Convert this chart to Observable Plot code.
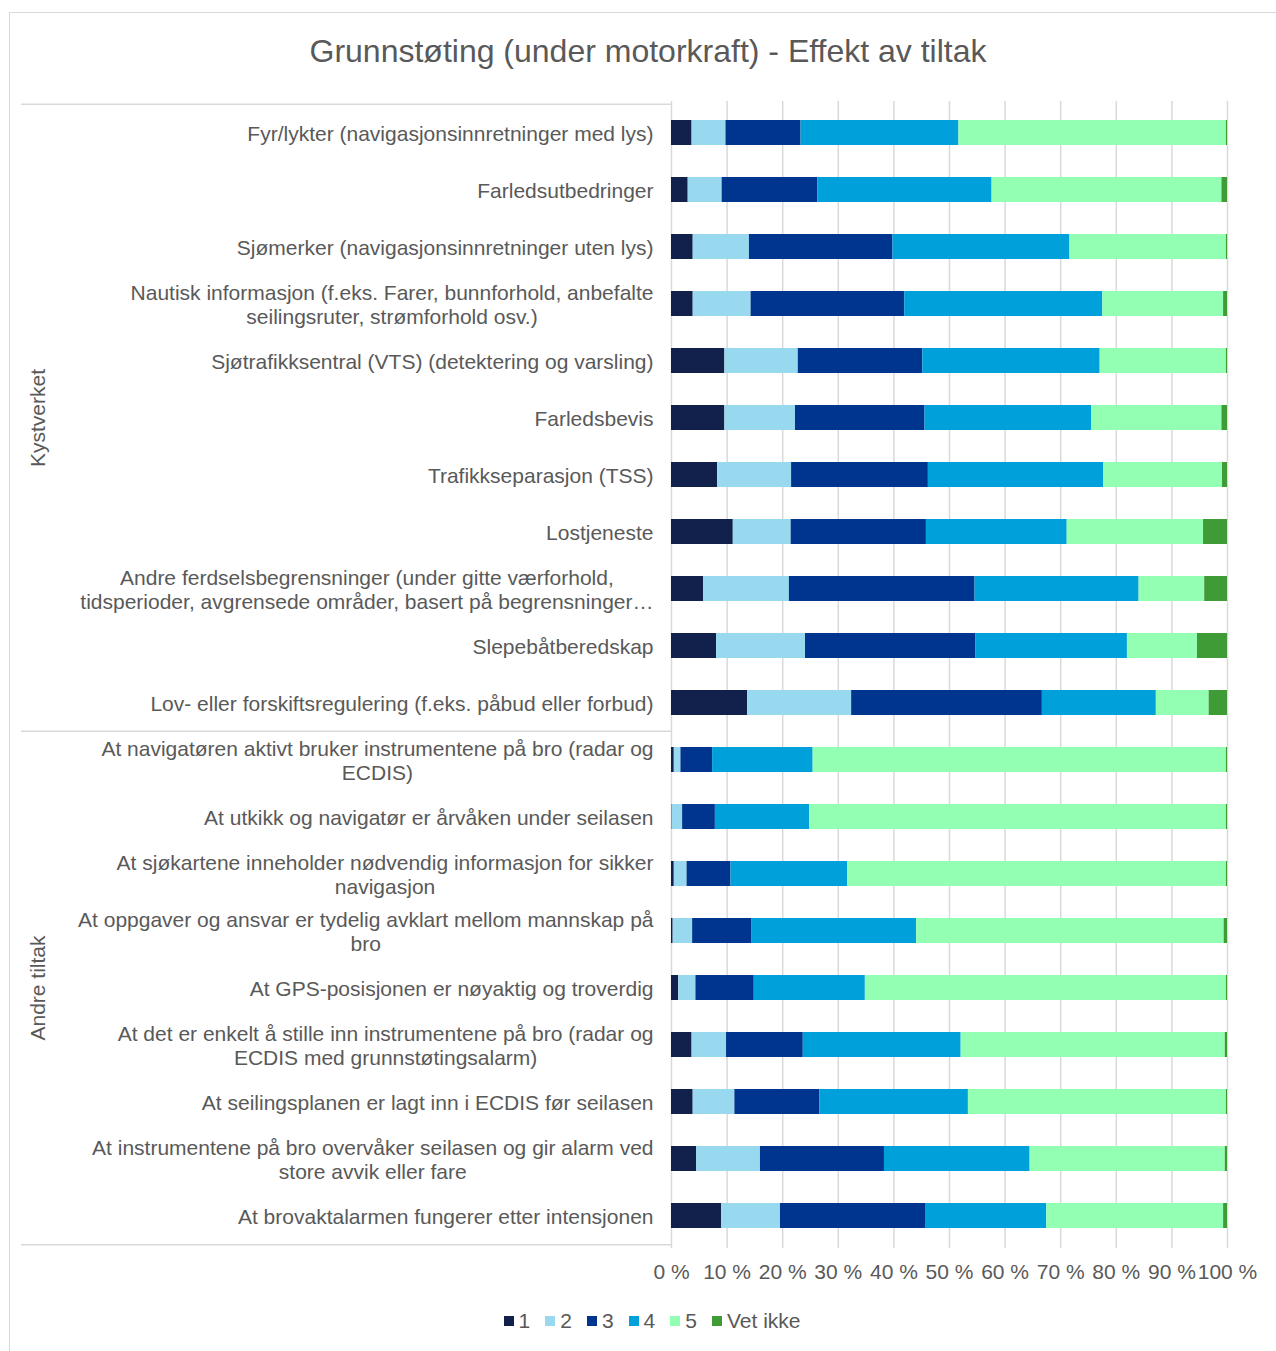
<!DOCTYPE html>
<html>
<head>
<meta charset="utf-8">
<script src="https://cdn.jsdelivr.net/npm/d3@7"></script>
<script src="https://cdn.jsdelivr.net/npm/@observablehq/plot@0.6"></script>
<style>
  html, body { margin: 0; padding: 0; overflow: hidden; background: #fff; }
  body { font-family: "Liberation Sans", Arial, sans-serif; color: #595959; width: 1276px; height: 1351px; position: relative; }
  #frame { position: absolute; left: 9px; top: 12px; width: 1320px; height: 1400px; border: 1.5px solid #d9d9d9; box-sizing: border-box; }
  #title { position: absolute; left: 10px; width: 1276px; top: 31px; line-height: 40px; font-size: 32px; text-align: center; }
  #chart { position: absolute; left: 0; top: 89px; }
  #legend { position: absolute; left: 0; width: 1304px; top: 1309px; display: flex; justify-content: center; gap: 15px; font-size: 21px; line-height: 24px; }
  #legend .item { display: flex; align-items: center; }
  #legend .sw { width: 10px; height: 10px; margin-right: 5px; display: inline-block; }
</style>
</head>
<body>
<div id="frame"></div>
<div id="title">Grunnstøting (under motorkraft) - Effekt av tiltak</div>
<div id="chart"></div>
<div id="legend"></div>
<script>
// ---- Data ----
const categories = [
  "Fyr/lykter (navigasjonsinnretninger med lys)",
  "Farledsutbedringer",
  "Sjømerker (navigasjonsinnretninger uten lys)",
  "Nautisk informasjon (f.eks. Farer, bunnforhold, anbefalte\nseilingsruter, strømforhold osv.)",
  "Sjøtrafikksentral (VTS) (detektering og varsling)",
  "Farledsbevis",
  "Trafikkseparasjon (TSS)",
  "Lostjeneste",
  "Andre ferdselsbegrensninger (under gitte værforhold,\ntidsperioder, avgrensede områder, basert på begrensninger…",
  "Slepebåtberedskap",
  "Lov- eller forskiftsregulering (f.eks. påbud eller forbud)",
  "At navigatøren aktivt bruker instrumentene på bro (radar og\nECDIS)",
  "At utkikk og navigatør er årvåken under seilasen",
  "At sjøkartene inneholder nødvendig informasjon for sikker\nnavigasjon",
  "At oppgaver og ansvar er tydelig avklart mellom mannskap på\nbro",
  "At GPS-posisjonen er nøyaktig og troverdig",
  "At det er enkelt å stille inn instrumentene på bro (radar og\nECDIS med grunnstøtingsalarm)",
  "At seilingsplanen er lagt inn i ECDIS før seilasen",
  "At instrumentene på bro overvåker seilasen og gir alarm ved\nstore avvik eller fare",
  "At brovaktalarmen fungerer etter intensjonen"
];
const groupNames = ["Kystverket", "Andre tiltak"];
const groupSizes = [11, 9];

const seriesNames = ["1", "2", "3", "4", "5", "Vet ikke"];
const seriesColors = ["#11214b", "#99d9f0", "#00358f", "#00a0da", "#93ffb3", "#3f9b35"];

const s1  = [3.7, 3.0, 3.9, 3.9, 9.6, 9.6, 8.3, 11.1, 5.8, 8.1, 13.7, 0.5, 0.1, 0.5, 0.3, 1.3, 3.7, 3.9, 4.5, 9.0];
const s2  = [6.1, 6.1, 10.1, 10.4, 13.2, 12.7, 13.3, 10.4, 15.4, 16.0, 18.7, 1.2, 1.9, 2.3, 3.5, 3.1, 6.2, 7.5, 11.5, 10.6];
const s3  = [13.5, 17.2, 25.8, 27.6, 22.4, 23.3, 24.6, 24.3, 33.4, 30.6, 34.3, 5.7, 5.9, 7.9, 10.6, 10.5, 13.8, 15.3, 22.3, 26.2];
const s4  = [28.4, 31.3, 31.8, 35.6, 31.9, 30.0, 31.5, 25.3, 29.5, 27.3, 20.5, 18.1, 17.0, 21.0, 29.7, 20.0, 28.4, 26.7, 26.2, 21.7];
const s5  = [48.1, 41.3, 28.1, 21.7, 22.7, 23.4, 21.4, 24.5, 11.8, 12.6, 9.5, 74.4, 75.0, 68.1, 55.3, 65.0, 47.5, 46.4, 35.1, 31.8];
const sVI = [0.2, 1.0, 0.2, 0.7, 0.2, 1.0, 0.9, 4.3, 4.1, 5.4, 3.3, 0.2, 0.2, 0.2, 0.6, 0.2, 0.4, 0.2, 0.4, 0.7];

const xTicks = [0, 10, 20, 30, 40, 50, 60, 70, 80, 90, 100];

// ---- Build table ----
const seriesValues = [s1, s2, s3, s4, s5, sVI];
const rows = [];
categories.forEach((c, i) => seriesNames.forEach((s, j) => rows.push({category: c, series: s, value: seriesValues[j][i]})));

// group helpers
const groupStarts = [], groupEnds = [], groupMids = [];
let k = 0;
groupSizes.forEach((n, g) => {
  groupStarts.push({name: groupNames[g], category: categories[k]});
  groupEnds.push({name: groupNames[g], category: categories[k + n - 1]});
  groupMids.push({name: groupNames[g], category: categories[k + Math.floor(n / 2)], odd: n % 2 === 1});
  k += n;
});

const W = 1276, H = 1210;
const mt = 12, mb = 51, ml = 671, mr = 49;
const innerW = W - ml - mr;
const step = (H - mt - mb) / categories.length;
const leftEdge = (21 - ml) / innerW;
const groupLabelX = (38 - ml) / innerW;

const chart = Plot.plot({
  width: W,
  height: H,
  marginTop: mt,
  marginBottom: mb,
  marginLeft: ml,
  marginRight: mr,
  style: {fontFamily: '"Liberation Sans", Arial, sans-serif', fontSize: "21px", color: "#595959", background: "transparent", overflow: "visible"},
  x: {domain: [0, 1], axis: "bottom", ticks: xTicks.map(d => d / 100), tickFormat: d => Math.round(d * 100) + " %", tickSize: 0, tickPadding: 16, label: null},
  y: {domain: categories, axis: null, paddingInner: 0.56, paddingOuter: 0.28, label: null},
  color: {domain: seriesNames, range: seriesColors},
  marks: [
    Plot.gridX(xTicks.map(d => d / 100), {stroke: "#d9d9d9", strokeOpacity: 1, strokeWidth: 1.5}),
    Plot.barX(rows, Plot.stackX({offset: "normalize", x: "value", y: "category", fill: "series", order: seriesNames})),
    Plot.ruleY(groupStarts, {y: "category", dy: -step / 2, x1: leftEdge, x2: 0, stroke: "#d9d9d9", strokeWidth: 1.5}),
    Plot.ruleY(groupEnds.slice(-1), {y: "category", dy: step / 2, x1: leftEdge, x2: 0, stroke: "#d9d9d9", strokeWidth: 1.5}),
    Plot.text(categories, {x: () => 0, y: d => d, text: d => d, textAnchor: "end", dx: -18, lineHeight: 1.19, fontSize: 21, fill: "#595959"}),
    Plot.text(groupMids.filter(d => d.odd), {x: () => groupLabelX, y: "category", text: "name", textAnchor: "middle", rotate: -90, fontSize: 21, fill: "#595959"}),
    Plot.text(groupMids.filter(d => !d.odd), {x: () => groupLabelX, y: "category", text: "name", textAnchor: "middle", rotate: -90, dy: -step / 2, fontSize: 21, fill: "#595959"})
  ]
});

document.getElementById("chart").appendChild(chart);

// center multi-line labels within their right-aligned block (Excel-style)
chart.querySelectorAll("text").forEach(t => {
  const spans = t.querySelectorAll("tspan");
  if (spans.length > 1) {
    let wMax = 0;
    spans.forEach(s => { wMax = Math.max(wMax, s.getComputedTextLength()); });
    t.setAttribute("text-anchor", "middle");
    t.style.textAnchor = "middle";
    const tr = t.getAttribute("transform") || "";
    t.setAttribute("transform", tr + ` translate(${-wMax / 2},0)`);
  }
});

// legend
const legend = document.getElementById("legend");
seriesNames.forEach((s, i) => {
  const item = document.createElement("div");
  item.className = "item";
  const sw = document.createElement("span");
  sw.className = "sw";
  sw.style.background = seriesColors[i];
  item.appendChild(sw);
  item.appendChild(document.createTextNode(s));
  legend.appendChild(item);
});
</script>
</body>
</html>
